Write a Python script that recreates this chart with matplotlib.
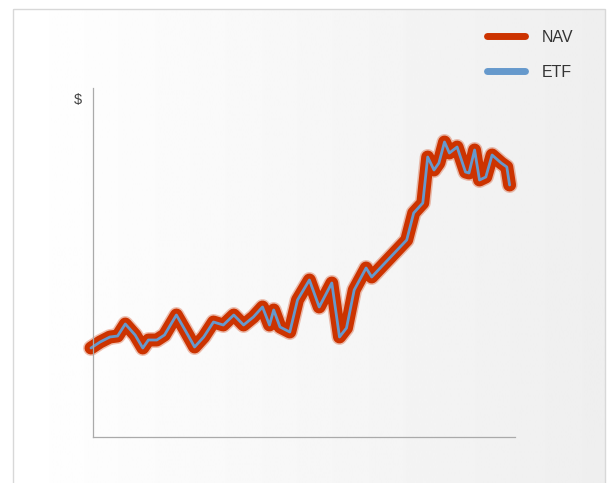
import matplotlib.pyplot as plt
import numpy as np
from matplotlib.lines import Line2D
from matplotlib.patches import Rectangle

# months since inception
months = [0.0, 1.3, 2.7, 3.8, 4.9, 6.3, 7.4, 8.2, 9.4, 10.5,
          12.2, 13.6, 14.8, 16.1, 17.5, 18.9, 20.4, 21.8, 23.2, 24.5,
          25.5, 26.1, 27.0, 28.4, 29.5, 31.2, 32.6, 34.4, 35.5, 36.5,
          37.6, 39.3, 40.1, 45.1, 46.1, 47.4, 48.1, 49.0, 49.7, 50.5,
          51.2, 52.3, 53.5, 54.0, 54.8, 55.5, 56.4, 57.3, 58.6, 59.4,
          59.8]

nav = [8.9, 9.5, 10.0, 10.1, 11.3, 10.2, 8.9, 9.7, 9.7, 10.2,
       12.2, 10.5, 9.0, 10.0, 11.5, 11.2, 12.2, 11.2, 12.0, 13.0,
       11.2, 12.7, 11.0, 10.5, 13.7, 15.7, 13.0, 15.4, 10.0, 10.9,
       14.7, 16.9, 16.0, 19.7, 22.4, 23.4, 28.0, 26.7, 27.4, 29.5,
       28.4, 29.0, 26.5, 26.4, 28.7, 25.7, 26.0, 28.2, 27.4, 27.0,
       25.2]

# ETF price tracks NAV so closely the two lines overlap
etf = list(nav)

series_labels = ["NAV", "ETF"]
nav_color = "#cc3300"
etf_color = "#6699cc"

W, H = 614, 483
fig = plt.figure(figsize=(W / 100, H / 100), dpi=100)
fig.patch.set_facecolor("white")

# card background with a soft left-to-right gradient
bg = fig.add_axes([0, 0, 1, 1], zorder=0)
bg.set_xlim(0, W)
bg.set_ylim(H, 0)
bg.axis("off")
grad = np.linspace(1.0, 0.935, 256)[None, :]
im = bg.imshow(grad, cmap="gray", vmin=0, vmax=1, extent=[12.5, 605, H + 5, 8.5],
               aspect="auto", interpolation="bilinear")
card = Rectangle((12.5, 8.5), 592.5, H, facecolor="none", edgecolor="#d8d8d8", lw=1.0)
bg.add_patch(card)
im.set_clip_path(card)

ax = fig.add_axes([93 / W, 1 - 437 / H, (515 - 93) / W, (437 - 88) / H], zorder=1)
ax.patch.set_alpha(0)
ax.plot(months, nav, color=nav_color, lw=11.5, alpha=0.3, clip_on=False,
        solid_joinstyle="round", solid_capstyle="round")
ax.plot(months, nav, color=nav_color, lw=9.3, clip_on=False,
        solid_joinstyle="round", solid_capstyle="round")
ax.plot(months, etf, color=etf_color, lw=2.0, clip_on=False,
        solid_joinstyle="round", solid_capstyle="round")

ax.set_xlim(2 / 7, 424 / 7)
ax.set_ylim(0, 34.9)
ax.set_xticks([])
ax.set_yticks([])
for side in ["top", "right"]:
    ax.spines[side].set_visible(False)
for side in ["left", "bottom"]:
    ax.spines[side].set_color("#aaaaaa")
    ax.spines[side].set_linewidth(0.9)

fig.text(78 / W, 1 - 100 / H, "$", fontsize=10.5, color="#444444",
         family="Liberation Sans", ha="center", va="center")

handles = [Line2D([], [], color=nav_color, lw=5, solid_capstyle="round"),
           Line2D([], [], color=etf_color, lw=5, solid_capstyle="round")]
leg = fig.legend(handles, series_labels, loc="upper left",
                 bbox_to_anchor=(487 / W, 1 - 30 / H), frameon=False,
                 prop={"family": "Liberation Sans", "size": 11.5},
                 handlelength=2.4, handletextpad=1.0, labelspacing=1.25,
                 borderpad=0, borderaxespad=0)
for t in leg.get_texts():
    t.set_color("#333333")

fig.savefig("out.png", dpi=100)
